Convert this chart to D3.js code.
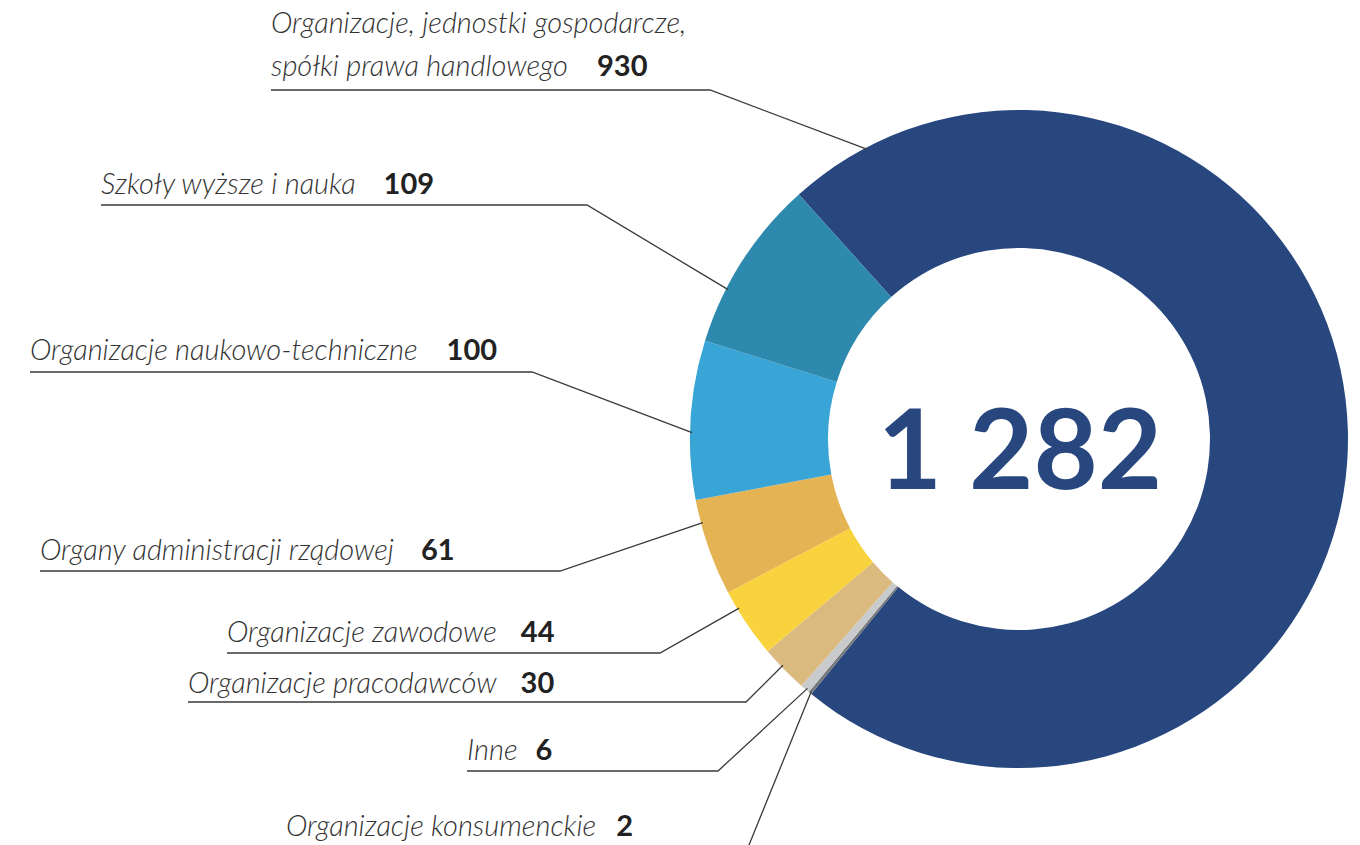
<!DOCTYPE html>
<html><head><meta charset="utf-8">
<script src="https://cdn.jsdelivr.net/npm/d3@7"></script>
<style>
html,body{margin:0;padding:0;background:#fff;}
svg{display:block;}
</style></head>
<body>
<svg id="chart" width="1360" height="845"></svg>
<script>
// ---- data ----
const categories = [
  "Organizacje, jednostki gospodarcze, spółki prawa handlowego",
  "Organizacje konsumenckie",
  "Inne",
  "Organizacje pracodawców",
  "Organizacje zawodowe",
  "Organy administracji rządowej",
  "Organizacje naukowo-techniczne",
  "Szkoły wyższe i nauka"
];
const values = [930, 2, 6, 30, 44, 61, 100, 109];
const labelLines = [
  ["Organizacje, jednostki gospodarcze,", "spółki prawa handlowego"],
  ["Organizacje konsumenckie"],
  ["Inne"],
  ["Organizacje pracodawców"],
  ["Organizacje zawodowe"],
  ["Organy administracji rządowej"],
  ["Organizacje naukowo-techniczne"],
  ["Szkoły wyższe i nauka"]
];
const colors = ["#27477e", "#77787b", "#c9cacc", "#dbba80", "#f9d33d", "#e3b354", "#39a4d6", "#2d89ae"];
const total = d3.sum(values);

// ---- layout (positions only) ----
const cx = 1019, cy = 439, R = 329, r0 = 191;
// text x, baseline y of last line, underline y, elbow x, anchor fraction within slice, gap before number
const layout = [
  {x: 271, y: 76,  uy: 90,  ex: 710, f: 0.055, gap: 29},
  {x: 286, y: 836, uy: 850, ex: 747, f: 0.5,   gap: 20},
  {x: 467, y: 760, uy: 771, ex: 718, f: 0.35,  gap: 18},
  {x: 188, y: 693, uy: 702, ex: 746, f: 0.57,  gap: 24},
  {x: 227, y: 642, uy: 653, ex: 660, f: 0.73,  gap: 24},
  {x: 40,  y: 560, uy: 571, ex: 560, f: 0.76,  gap: 27},
  {x: 30,  y: 360, uy: 372, ex: 532, f: 0.42,  gap: 29},
  {x: 101, y: 194, uy: 205, ex: 587, f: 0.32,  gap: 28}
];

const svg = d3.select("#chart");
const g = svg.append("g").attr("transform", `translate(${cx},${cy})`);

const startA = -42 * Math.PI / 180;
const pie = d3.pie().sort(null).value(d => d).startAngle(startA).endAngle(startA + 2 * Math.PI);
const arcs = pie(values);
const arc = d3.arc().innerRadius(r0).outerRadius(R);

g.selectAll("path.slice").data(arcs).enter().append("path")
  .attr("class", "slice")
  .attr("d", arc)
  .attr("fill", (d, i) => colors[i]);

// leader lines
arcs.forEach((d, i) => {
  const L = layout[i];
  const a = d.startAngle + L.f * (d.endAngle - d.startAngle);
  const px = cx + (R - 2) * Math.sin(a), py = cy - (R - 2) * Math.cos(a);
  svg.append("polyline")
    .attr("points", `${L.x},${L.uy} ${L.ex},${L.uy} ${px},${py}`)
    .attr("fill", "none").attr("stroke", "#3a3a3a").attr("stroke-width", 1.3);
});

// labels
arcs.forEach((d, i) => {
  const L = layout[i];
  const lines = labelLines[i];
  const n = lines.length;
  lines.forEach((ln, k) => {
    const t = svg.append("text")
      .attr("x", L.x)
      .attr("y", L.y - (n - 1 - k) * 43)
      .attr("font-family", "Lato, 'Open Sans', sans-serif")
      .attr("font-size", 29)
      .attr("font-style", "italic")
      .attr("font-weight", 300)
      .attr("fill", "#333")
      .text(ln);
    if (k === n - 1) {
      t.append("tspan")
        .attr("dx", L.gap)
        .attr("font-style", "normal")
        .attr("font-weight", 700)
        .attr("font-size", 29)
        .attr("fill", "#222")
        .text(values[i]);
    }
  });
});

// center total
svg.append("text")
  .attr("x", cx + 1).attr("y", cy + 50)
  .attr("text-anchor", "middle")
  .attr("font-family", "Lato, sans-serif")
  .attr("font-weight", 700)
  .attr("font-size", 111)
  .attr("fill", "#27477e")
  .text(d3.format(",")(total).replace(/,/g, " "));
</script>
</body></html>
